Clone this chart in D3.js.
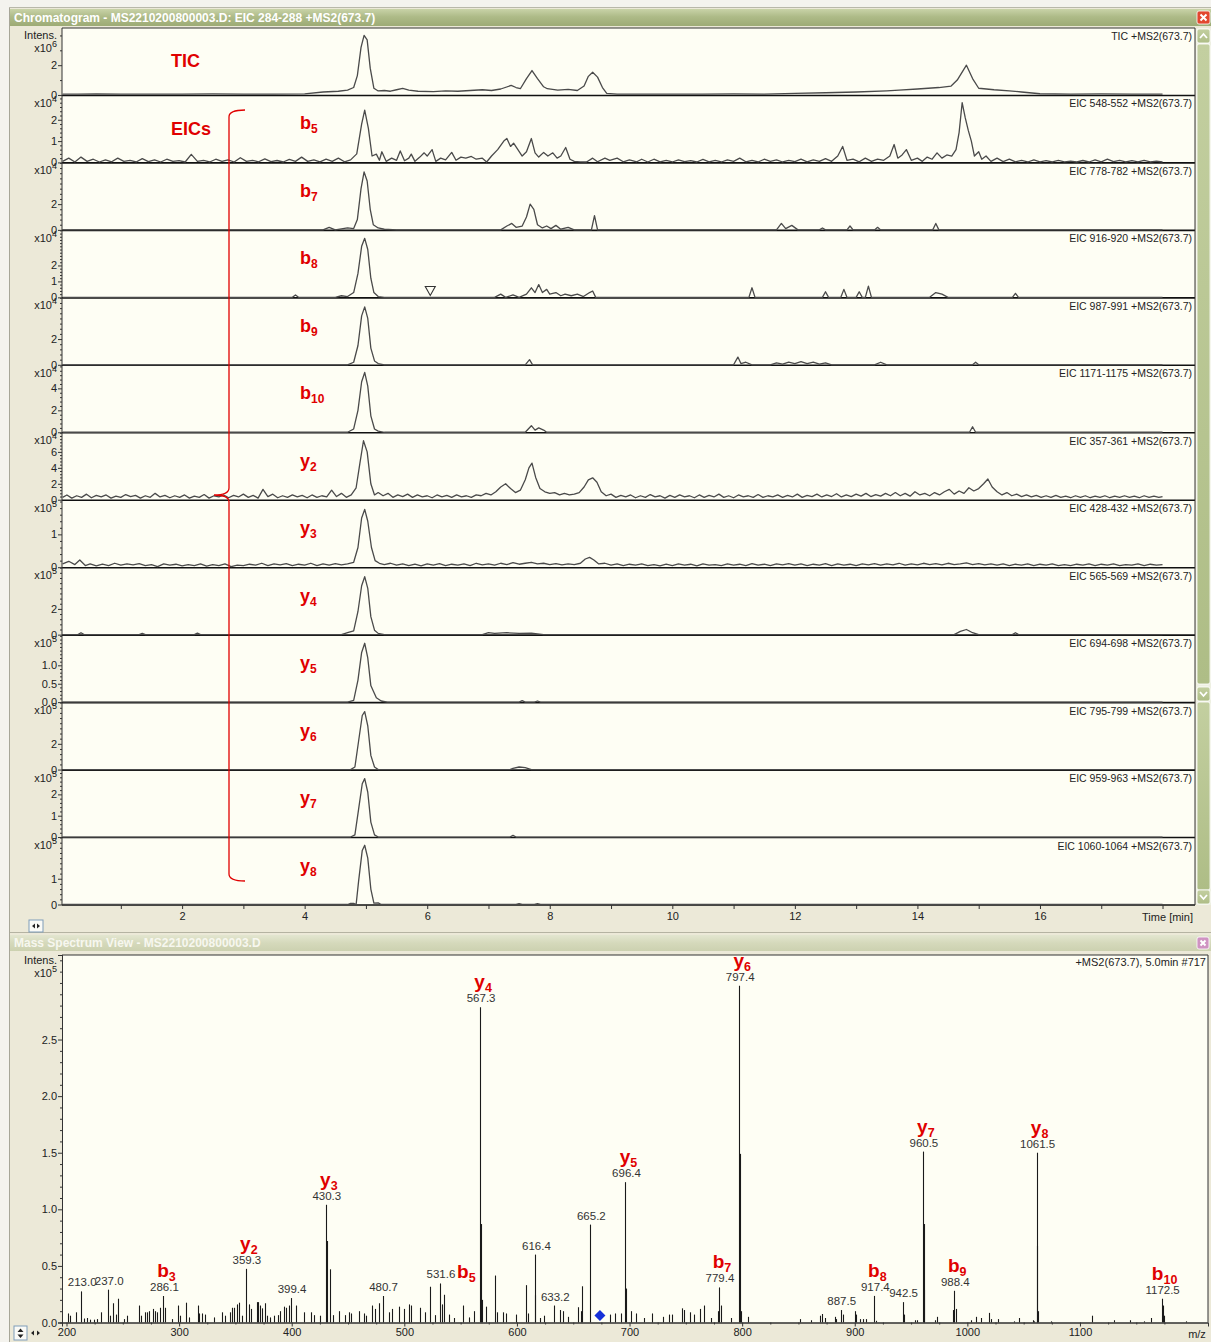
<!DOCTYPE html>
<html>
<head>
<meta charset="utf-8">
<script src="https://cdn.jsdelivr.net/npm/d3@7"></script>
<style>
  html,body{margin:0;padding:0;background:#ece9d8;}
  svg{display:block;}
  text{font-family:'Liberation Sans',Arial,sans-serif;}
</style>
</head>
<body>
<svg id="chart" width="1211" height="1342"></svg>
<script>
// ---------------- Chromatogram traces: [time (min), intensity in panel units] ----------------
const traceNames = [
  "TIC +MS2(673.7)", "EIC 548-552 +MS2(673.7)", "EIC 778-782 +MS2(673.7)", "EIC 916-920 +MS2(673.7)",
  "EIC 987-991 +MS2(673.7)", "EIC 1171-1175 +MS2(673.7)", "EIC 357-361 +MS2(673.7)", "EIC 428-432 +MS2(673.7)",
  "EIC 565-569 +MS2(673.7)", "EIC 694-698 +MS2(673.7)", "EIC 795-799 +MS2(673.7)", "EIC 959-963 +MS2(673.7)",
  "EIC 1060-1064 +MS2(673.7)"
];
const traceIons = [null, ["b","5"], ["b","7"], ["b","8"], ["b","9"], ["b","10"], ["y","2"], ["y","3"], ["y","4"], ["y","5"], ["y","6"], ["y","7"], ["y","8"]];
const traceExponent = [6, 4, 4, 4, 4, 4, 4, 5, 5, 5, 5, 5, 5];
const traceMax = [4.5, 3.14, 5.2, 4.2, 5.2, 6.1, 8.4, 2.04, 5.2, 1.82, 5.2, 3.14, 2.6];
const traceTicks = [[0,2],[0,1,2],[0,2],[0,1,2],[0,2],[0,2,4],[0,2,4,6],[0,1],[0,2],[0,0.5,1],[0,2],[0,1,2],[0,1]];
const traceMinorStep = [1, 0.2, 0.4, 0.2, 0.4, 0.4, 0.4, 0.2, 0.4, 0.1, 0.4, 0.2, 0.2];
const timeTicks = [1,2,3,4,5,6,7,8,9,10,11,12,13,14,15,16,17,18];
const timeLabels = [2,4,6,8,10,12,14,16];

const ticTrace = [[0.05,0.06],[0.3,0.05],[0.6,0.07],[1.0,0.05],[1.5,0.06],[2.0,0.05],[2.5,0.07],[3.0,0.05],[3.5,0.06],[4.0,0.07],[4.3,0.2],[4.55,0.25],[4.7,0.33],[4.8,0.5],[4.86,1.3],[4.92,3.2],[4.97,4.0],[5.02,3.7],[5.07,1.8],[5.13,0.45],[5.2,0.27],[5.3,0.3],[5.4,0.25],[5.5,0.35],[5.6,0.44],[5.7,0.33],[5.85,0.25],[6.1,0.22],[6.3,0.28],[6.5,0.25],[6.7,0.3],[6.9,0.35],[7.05,0.3],[7.2,0.4],[7.37,0.64],[7.45,0.5],[7.52,0.42],[7.62,1.1],[7.71,1.64],[7.8,1.1],[7.9,0.55],[7.96,0.42],[8.13,0.33],[8.3,0.38],[8.45,0.3],[8.56,0.6],[8.63,1.25],[8.7,1.53],[8.78,1.2],[8.86,0.5],[8.93,0.1],[9.1,0.06],[9.5,0.05],[10,0.06],[10.5,0.05],[11,0.07],[11.5,0.06],[12,0.1],[12.5,0.15],[13,0.2],[13.5,0.28],[13.7,0.33],[14.0,0.4],[14.35,0.5],[14.55,0.6],[14.65,1.0],[14.8,2.0],[14.9,1.1],[15.0,0.45],[15.25,0.35],[15.5,0.28],[15.7,0.2],[16.0,0.08],[16.5,0.06],[17,0.07],[17.5,0.06],[18.0,0.06]];

const b5Trace = [[0.05,0.05],[0.15,0.2],[0.25,0.02],[0.35,0.25],[0.45,0.05],[0.55,0.15],[0.65,0.02],[0.75,0.12],[0.85,0.03],[0.95,0.2],[1.05,0.05],[1.15,0.1],[1.25,0.02],[1.35,0.18],[1.45,0.04],[1.55,0.12],[1.65,0.02],[1.75,0.15],[1.85,0.05],[1.95,0.08],[2.05,0.02],[2.15,0.38],[2.25,0.05],[2.35,0.1],[2.45,0.02],[2.55,0.15],[2.65,0.05],[2.75,0.12],[2.85,0.02],[2.95,0.22],[3.05,0.05],[3.15,0.1],[3.25,0.03],[3.35,0.17],[3.45,0.04],[3.55,0.09],[3.65,0.02],[3.75,0.14],[3.85,0.05],[3.95,0.25],[4.05,0.05],[4.15,0.12],[4.25,0.03],[4.35,0.15],[4.45,0.05],[4.55,0.2],[4.65,0.03],[4.75,0.12],[4.85,0.4],[4.93,1.8],[4.98,2.45],[5.04,1.6],[5.1,0.3],[5.17,0.39],[5.22,0.1],[5.26,0.5],[5.33,0.05],[5.42,0.2],[5.5,0.1],[5.56,0.54],[5.63,0.08],[5.7,0.2],[5.74,0.39],[5.8,0.05],[5.88,0.25],[5.95,0.45],[6.0,0.3],[6.08,0.6],[6.14,0.05],[6.22,0.2],[6.3,0.12],[6.4,0.47],[6.47,0.1],[6.55,0.25],[6.63,0.2],[6.72,0.28],[6.8,0.15],[6.9,0.2],[6.97,0.02],[7.05,0.3],[7.15,0.6],[7.25,1.0],[7.3,1.12],[7.36,0.75],[7.41,0.9],[7.48,0.6],[7.55,0.3],[7.62,0.5],[7.7,1.12],[7.76,0.45],[7.82,0.25],[7.9,0.47],[7.97,0.3],[8.05,0.45],[8.12,0.2],[8.18,0.3],[8.26,0.7],[8.33,0.15],[8.4,0.05],[8.5,0.03],[8.6,0.02],[8.7,0.2],[8.78,0.03],[8.9,0.2],[8.98,0.1],[9.1,0.2],[9.2,0.03],[9.3,0.12],[9.42,0.03],[9.5,0.15],[9.6,0.02],[9.7,0.15],[9.8,0.03],[9.9,0.1],[10.0,0.02],[10.1,0.12],[10.2,0.04],[10.3,0.08],[10.4,0.02],[10.5,0.14],[10.6,0.03],[10.7,0.1],[10.8,0.02],[10.9,0.12],[11.0,0.05],[11.1,0.2],[11.2,0.03],[11.3,0.1],[11.4,0.02],[11.5,0.15],[11.6,0.05],[11.7,0.12],[11.8,0.02],[11.9,0.1],[12.0,0.04],[12.1,0.15],[12.2,0.03],[12.3,0.12],[12.4,0.05],[12.5,0.18],[12.6,0.05],[12.7,0.3],[12.78,0.75],[12.85,0.1],[12.95,0.15],[13.05,0.03],[13.15,0.2],[13.25,0.05],[13.35,0.15],[13.45,0.1],[13.55,0.3],[13.62,0.84],[13.68,0.2],[13.75,0.35],[13.82,0.6],[13.9,0.1],[14.0,0.2],[14.08,0.05],[14.16,0.25],[14.24,0.15],[14.32,0.45],[14.4,0.2],[14.48,0.35],[14.56,0.3],[14.63,0.6],[14.68,1.4],[14.73,2.8],[14.78,2.1],[14.83,1.5],[14.88,1.0],[14.93,0.3],[15.0,0.5],[15.05,0.15],[15.12,0.3],[15.2,0.05],[15.3,0.2],[15.4,0.04],[15.5,0.15],[15.6,0.03],[15.7,0.1],[15.8,0.02],[15.9,0.12],[16.0,0.03],[16.1,0.08],[16.2,0.02],[16.3,0.1],[16.4,0.03],[16.5,0.06],[16.6,0.02],[16.7,0.09],[16.8,0.02],[16.9,0.12],[17.0,0.03],[17.1,0.15],[17.2,0.04],[17.3,0.1],[17.4,0.02],[17.5,0.08],[17.6,0.03],[17.7,0.1],[17.8,0.02],[17.9,0.06],[18.0,0.02]];

const b7Trace = [[0.05,0],[4.3,0],[4.4,0.2],[4.5,0],[4.7,0.15],[4.8,0.1],[4.86,0.8],[4.92,3.2],[4.97,4.5],[5.02,3.8],[5.07,1.6],[5.12,0.4],[5.2,0.15],[5.3,0.05],[5.5,0],[7.2,0],[7.3,0.3],[7.38,0.5],[7.45,0.2],[7.55,0.3],[7.62,1.0],[7.68,2.0],[7.74,1.6],[7.8,0.4],[7.88,0.15],[7.95,0.3],[8.02,0.1],[8.1,0.35],[8.18,0.05],[8.3,0.2],[8.4,0],[8.68,0],[8.73,1.1],[8.78,0],[11.7,0],[11.78,0.5],[11.85,0.1],[11.95,0.35],[12.05,0],[12.4,0],[12.45,0.15],[12.5,0],[12.85,0],[12.9,0.3],[12.95,0],[13.3,0],[13.35,0.2],[13.4,0],[14.25,0],[14.3,0.5],[14.35,0],[18.0,0]];

const b8Trace = [[0.05,0],[3.8,0],[3.85,0.15],[3.9,0],[4.5,0],[4.6,0.1],[4.7,0.05],[4.8,0.3],[4.87,1.5],[4.93,3.2],[4.98,3.7],[5.03,3.0],[5.08,1.2],[5.13,0.3],[5.2,0.05],[5.3,0],[7.1,0],[7.2,0.2],[7.28,0],[7.4,0.15],[7.5,0],[7.62,0.2],[7.7,0.6],[7.76,0.3],[7.82,0.8],[7.88,0.3],[7.95,0.5],[8.0,0.2],[8.1,0.3],[8.18,0.1],[8.25,0.2],[8.35,0.1],[8.45,0.2],[8.55,0.05],[8.65,0.3],[8.7,0.4],[8.75,0],[11.25,0],[11.3,0.6],[11.35,0],[12.45,0],[12.5,0.35],[12.55,0],[12.75,0],[12.8,0.5],[12.85,0],[13.0,0],[13.05,0.35],[13.1,0],[13.15,0],[13.2,0.7],[13.25,0],[14.2,0],[14.3,0.3],[14.4,0.2],[14.5,0],[15.55,0],[15.6,0.25],[15.65,0],[18.0,0]];

const b9Trace = [[0.05,0],[4.7,0],[4.8,0.2],[4.87,1.5],[4.93,3.8],[4.98,4.5],[5.03,3.6],[5.08,1.3],[5.14,0.3],[5.2,0.1],[5.3,0],[7.6,0],[7.67,0.4],[7.72,0],[11.0,0],[11.07,0.6],[11.12,0.1],[11.2,0.2],[11.3,0],[11.6,0],[11.7,0.15],[11.8,0.05],[11.9,0.2],[12.0,0.1],[12.1,0.25],[12.2,0.1],[12.3,0.2],[12.4,0.05],[12.5,0.15],[12.6,0],[13.3,0],[13.4,0.2],[13.5,0],[14.9,0],[14.95,0.2],[15.0,0],[18.0,0]];

const b10Trace = [[0.05,0],[4.7,0],[4.8,0.3],[4.87,2.0],[4.93,4.6],[4.98,5.45],[5.03,4.2],[5.08,1.5],[5.14,0.3],[5.2,0.1],[5.3,0],[7.6,0],[7.65,0.3],[7.7,0.6],[7.76,0.2],[7.82,0.4],[7.9,0.2],[7.95,0],[14.85,0],[14.9,0.5],[14.95,0],[18.0,0]];

const y2Trace = [[0.05,0.3],[0.12,0.6],[0.2,0.2],[0.28,0.5],[0.36,0.3],[0.44,0.7],[0.52,0.25],[0.6,0.55],[0.68,0.35],[0.76,0.6],[0.84,0.2],[0.92,0.45],[1.0,0.3],[1.08,0.65],[1.16,0.4],[1.24,0.55],[1.32,0.2],[1.4,0.5],[1.48,0.3],[1.56,0.8],[1.64,0.35],[1.72,0.55],[1.8,0.25],[1.88,0.5],[1.96,0.3],[2.04,0.6],[2.12,0.2],[2.2,0.45],[2.28,0.3],[2.36,0.65],[2.44,0.2],[2.52,0.5],[2.6,0.35],[2.68,0.6],[2.76,0.25],[2.84,0.55],[2.92,0.35],[3.0,0.7],[3.08,0.3],[3.16,0.55],[3.24,0.2],[3.32,1.3],[3.4,0.4],[3.48,0.7],[3.56,0.25],[3.64,0.5],[3.72,0.3],[3.8,0.6],[3.88,0.35],[3.96,0.55],[4.04,0.25],[4.12,0.6],[4.2,0.3],[4.28,0.5],[4.36,0.35],[4.44,1.2],[4.52,0.4],[4.6,0.8],[4.68,0.3],[4.76,0.6],[4.84,1.5],[4.9,4.5],[4.96,7.4],[5.02,6.0],[5.08,2.0],[5.14,0.6],[5.2,0.9],[5.28,0.5],[5.36,0.8],[5.44,0.3],[5.52,0.6],[5.6,0.4],[5.68,0.7],[5.76,0.3],[5.84,0.6],[5.92,0.35],[6.0,0.5],[6.08,0.25],[6.16,0.6],[6.24,0.35],[6.32,0.55],[6.4,0.3],[6.48,0.6],[6.56,0.35],[6.64,0.5],[6.72,0.3],[6.8,0.6],[6.88,0.5],[6.96,0.8],[7.04,0.6],[7.12,1.0],[7.2,1.6],[7.28,2.0],[7.36,1.4],[7.44,0.9],[7.52,1.2],[7.6,2.5],[7.66,4.0],[7.71,4.6],[7.77,2.8],[7.84,1.4],[7.92,1.0],[8.0,0.8],[8.08,0.9],[8.16,0.6],[8.24,0.8],[8.32,0.6],[8.4,0.7],[8.48,0.9],[8.56,1.6],[8.63,2.5],[8.7,2.75],[8.77,2.2],[8.84,1.0],[8.92,0.5],[9.0,0.7],[9.08,0.3],[9.16,0.55],[9.24,0.35],[9.32,0.6],[9.4,0.25],[9.48,0.5],[9.56,0.3],[9.64,0.65],[9.72,0.35],[9.8,0.5],[9.88,0.2],[9.96,0.55],[10.04,0.3],[10.12,0.6],[10.2,0.35],[10.28,0.5],[10.36,0.25],[10.44,0.6],[10.52,0.3],[10.6,0.55],[10.68,0.35],[10.76,0.7],[10.84,0.3],[10.92,0.5],[11.0,0.25],[11.08,0.6],[11.16,0.35],[11.24,0.5],[11.32,0.3],[11.4,0.65],[11.48,0.3],[11.56,0.5],[11.64,0.35],[11.72,0.6],[11.8,0.3],[11.88,0.55],[11.96,0.35],[12.04,0.7],[12.12,0.3],[12.2,0.55],[12.28,0.4],[12.36,0.7],[12.44,0.35],[12.52,0.6],[12.6,0.4],[12.68,0.75],[12.76,0.35],[12.84,0.6],[12.92,0.4],[13.0,0.7],[13.08,0.45],[13.16,0.8],[13.24,0.4],[13.32,0.65],[13.4,0.45],[13.48,0.8],[13.56,0.5],[13.64,0.9],[13.72,0.5],[13.8,0.8],[13.88,0.45],[13.96,1.0],[14.04,0.6],[14.12,0.8],[14.2,0.5],[14.28,0.9],[14.36,0.6],[14.44,1.0],[14.52,1.3],[14.6,0.7],[14.68,1.1],[14.76,0.8],[14.84,1.5],[14.92,1.1],[15.0,1.4],[15.08,2.0],[15.15,2.6],[15.22,1.6],[15.3,1.0],[15.38,0.6],[15.46,0.9],[15.54,0.5],[15.62,0.7],[15.7,0.4],[15.78,0.6],[15.86,0.35],[15.94,0.55],[16.02,0.3],[16.1,0.5],[16.18,0.3],[16.26,0.55],[16.34,0.3],[16.42,0.45],[16.5,0.25],[16.58,0.5],[16.66,0.3],[16.74,0.5],[16.82,0.25],[16.9,0.45],[16.98,0.3],[17.06,0.5],[17.14,0.25],[17.22,0.45],[17.3,0.3],[17.38,0.5],[17.46,0.3],[17.54,0.45],[17.62,0.25],[17.7,0.5],[17.78,0.3],[17.86,0.45],[17.94,0.3],[18.0,0.4]];

const y3Trace = [[0.05,0.1],[0.15,0.18],[0.25,0.08],[0.33,0.22],[0.42,0.05],[0.5,0.1],[0.6,0.04],[0.7,0.09],[0.8,0.05],[0.9,0.12],[1.0,0.06],[1.1,0.1],[1.2,0.07],[1.3,0.11],[1.4,0.05],[1.5,0.08],[1.6,0.02],[1.7,0.1],[1.8,0.06],[1.9,0.09],[2.0,0.04],[2.1,0.08],[2.2,0.05],[2.3,0.1],[2.4,0.03],[2.5,0.08],[2.6,0.05],[2.7,0.1],[2.8,0.02],[2.9,0.06],[3.0,0.05],[3.1,0.09],[3.2,0.06],[3.3,0.12],[3.4,0.05],[3.5,0.1],[3.6,0.07],[3.7,0.11],[3.8,0.05],[3.9,0.09],[4.0,0.06],[4.1,0.12],[4.2,0.05],[4.3,0.1],[4.4,0.06],[4.5,0.11],[4.6,0.07],[4.7,0.1],[4.8,0.15],[4.87,0.6],[4.93,1.5],[4.98,1.76],[5.03,1.4],[5.09,0.6],[5.15,0.2],[5.22,0.12],[5.3,0.08],[5.4,0.12],[5.5,0.06],[5.6,0.1],[5.7,0.05],[5.8,0.09],[5.9,0.04],[6.0,0.1],[6.1,0.06],[6.2,0.11],[6.3,0.05],[6.4,0.09],[6.5,0.06],[6.6,0.1],[6.7,0.05],[6.8,0.12],[6.9,0.07],[7.0,0.1],[7.1,0.06],[7.2,0.12],[7.3,0.08],[7.4,0.14],[7.5,0.09],[7.6,0.12],[7.7,0.15],[7.8,0.1],[7.9,0.12],[8.0,0.08],[8.1,0.11],[8.2,0.07],[8.3,0.1],[8.4,0.08],[8.5,0.12],[8.58,0.25],[8.65,0.3],[8.72,0.22],[8.8,0.1],[8.9,0.12],[9.0,0.06],[9.1,0.1],[9.2,0.05],[9.3,0.09],[9.4,0.06],[9.5,0.1],[9.6,0.05],[9.7,0.08],[9.8,0.04],[9.9,0.09],[10.0,0.05],[10.1,0.1],[10.2,0.06],[10.3,0.09],[10.4,0.04],[10.5,0.1],[10.6,0.06],[10.7,0.08],[10.8,0.05],[10.9,0.1],[11.0,0.06],[11.1,0.09],[11.2,0.05],[11.3,0.11],[11.4,0.06],[11.5,0.09],[11.6,0.05],[11.7,0.1],[11.8,0.07],[11.9,0.11],[12.0,0.06],[12.1,0.1],[12.2,0.05],[12.3,0.09],[12.4,0.06],[12.5,0.11],[12.6,0.05],[12.7,0.1],[12.8,0.06],[12.9,0.09],[13.0,0.05],[13.1,0.1],[13.2,0.07],[13.3,0.11],[13.4,0.06],[13.5,0.1],[13.6,0.07],[13.7,0.12],[13.8,0.06],[13.9,0.1],[14.0,0.07],[14.1,0.12],[14.2,0.08],[14.3,0.11],[14.4,0.07],[14.5,0.12],[14.6,0.08],[14.7,0.1],[14.8,0.13],[14.9,0.08],[15.0,0.11],[15.1,0.07],[15.2,0.1],[15.3,0.06],[15.4,0.1],[15.5,0.05],[15.6,0.09],[15.7,0.06],[15.8,0.1],[15.9,0.05],[16.0,0.09],[16.1,0.06],[16.2,0.1],[16.3,0.05],[16.4,0.08],[16.5,0.05],[16.6,0.09],[16.7,0.06],[16.8,0.1],[16.9,0.05],[17.0,0.09],[17.1,0.06],[17.2,0.1],[17.3,0.05],[17.4,0.08],[17.5,0.06],[17.6,0.1],[17.7,0.05],[17.8,0.09],[17.9,0.06],[18.0,0.08]];

const y4Trace = [[0.05,0],[0.3,0],[0.35,0.15],[0.4,0],[1.3,0],[1.35,0.1],[1.4,0],[2.2,0],[2.25,0.12],[2.3,0],[4.6,0],[4.7,0.15],[4.8,0.3],[4.87,1.8],[4.93,3.8],[4.98,4.5],[5.03,3.6],[5.08,1.4],[5.14,0.35],[5.2,0.1],[5.3,0],[6.9,0],[7.0,0.15],[7.1,0.1],[7.3,0.15],[7.5,0.1],[7.7,0.12],[7.9,0],[14.6,0],[14.7,0.25],[14.8,0.4],[14.9,0.15],[15.0,0],[15.55,0],[15.6,0.15],[15.65,0],[18.0,0]];
const y5Trace = [[0.05,0],[4.7,0],[4.8,0.05],[4.87,0.6],[4.93,1.35],[4.98,1.6],[5.03,1.2],[5.08,0.45],[5.12,0.3],[5.17,0.12],[5.25,0.03],[5.35,0],[7.5,0],[7.55,0.04],[7.6,0],[7.75,0],[7.8,0.03],[7.85,0],[18.0,0]];
const y6Trace = [[0.05,0],[4.75,0],[4.82,0.2],[4.88,2.2],[4.94,4.2],[4.98,4.5],[5.03,3.4],[5.08,1.1],[5.14,0.2],[5.2,0],[7.35,0],[7.4,0.1],[7.5,0.2],[7.6,0.15],[7.7,0],[18.0,0]];
const y7Trace = [[0.05,0],[4.75,0],[4.82,0.1],[4.88,1.3],[4.94,2.5],[4.98,2.74],[5.03,2.1],[5.08,0.7],[5.14,0.1],[5.2,0],[7.35,0],[7.4,0.08],[7.45,0],[18.0,0]];
const y8Trace = [[0.05,0],[4.7,0],[4.75,0.04],[4.8,0.04],[4.84,0],[4.88,0.9],[4.94,2.1],[4.98,2.3],[5.03,1.8],[5.08,0.6],[5.13,0.05],[5.2,0.06],[5.25,0],[7.45,0],[7.5,0.03],[7.55,0],[7.75,0],[7.8,0.03],[7.85,0],[18.0,0]];

const traceData = [ticTrace, b5Trace, b7Trace, b8Trace, b9Trace, b10Trace, y2Trace, y3Trace, y4Trace, y5Trace, y6Trace, y7Trace, y8Trace];
// open triangle on the b8 trace: [time, intensity], panel index
const triangleMark = [6.05, 0.12, 3];

// ---------------- Mass spectrum: [m/z, intensity x10^5] ----------------
const specPeaks = [[201,0.08],[203,0.06],[208,0.09],[213.0,0.275],[215.4,0.035],[218,0.04],[221,0.025],[224,0.025],[227,0.03],[231,0.09],[237.0,0.29],[238.5,0.06],[241,0.17],[244,0.07],[246,0.21],[251,0.03],[254,0.06],[264.5,0.15],[266,0.06],[270,0.09],[271.6,0.09],[273,0.1],[277,0.12],[279,0.1],[280.5,0.09],[283,0.13],[286.1,0.234],[287.6,0.13],[294,0.03],[299,0.15],[301,0.06],[306,0.175],[308.6,0.045],[316.6,0.15],[318,0.08],[320.7,0.08],[323.4,0.07],[330.8,0.045],[338,0.09],[341,0.06],[345,0.09],[347,0.13],[349,0.13],[351.5,0.16],[353,0.175],[356,0.06],[359.3,0.474],[361.8,0.16],[364,0.12],[369,0.18],[370.4,0.18],[372,0.15],[373.7,0.125],[376.6,0.17],[378,0.06],[381,0.045],[384,0.06],[387.6,0.065],[390,0.1],[393,0.14],[395,0.13],[397.3,0.15],[399.4,0.216],[403.8,0.15],[410.6,0.09],[417,0.09],[419.5,0.065],[425.4,0.06],[430.3,1.04],[431.2,0.72],[433.7,0.47],[437,0.065],[442,0.1],[447.6,0.065],[450.6,0.09],[452.7,0.08],[459.5,0.1],[464,0.08],[466,0.06],[471.6,0.15],[474,0.12],[477.5,0.17],[480.7,0.234],[486,0.09],[489,0.12],[495.5,0.14],[499.4,0.12],[504.4,0.16],[506,0.15],[514,0.13],[518.6,0.09],[523,0.316],[527.5,0.065],[531.6,0.345],[533.4,0.16],[535.2,0.245],[539.8,0.07],[544.3,0.04],[552.4,0.15],[557.8,0.045],[562.3,0.1],[567.3,2.785],[567.9,0.87],[569,0.2],[572.3,0.14],[580.4,0.415],[582,0.09],[588,0.09],[590.4,0.08],[599.4,0.07],[608.4,0.33],[609.6,0.08],[615.7,0.24],[616.4,0.6],[620.5,0.04],[624,0.06],[633.2,0.15],[638.5,0.11],[640.7,0.1],[645,0.05],[654.2,0.135],[656.6,0.1],[658,0.32],[665.2,0.865],[682.8,0.07],[687.3,0.08],[692.8,0.08],[696.4,1.24],[697.2,0.3],[701,0.1],[705.4,0.08],[713,0.04],[720,0.08],[729.5,0.05],[735,0.07],[738,0.07],[747,0.125],[748.2,0.11],[753.6,0.09],[757.2,0.07],[762.6,0.12],[765.7,0.15],[772.3,0.04],[778.3,0.1],[779.4,0.31],[781,0.15],[789.8,0.04],[797.4,2.975],[798.2,1.49],[799,0.1],[805,0.05],[851,0.03],[861,0.02],[869.4,0.06],[871.2,0.075],[873.3,0.04],[882.8,0.05],[883.7,0.03],[887.5,0.11],[889.6,0.07],[900,0.1],[901.5,0.07],[904.5,0.03],[907.4,0.03],[910.4,0.03],[917.4,0.235],[918.6,0.015],[942.5,0.18],[943.7,0.07],[953.4,0.02],[955.5,0.02],[960.5,1.51],[961.2,0.87],[961.8,0.29],[971.2,0.02],[973,0.05],[987,0.11],[988.4,0.28],[990,0.12],[1003,0.02],[1007.4,0.05],[1011.9,0.04],[1019.3,0.085],[1020.8,0.03],[1027.6,0.03],[1041.5,0.01],[1046.3,0.04],[1057.9,0.02],[1059.6,0.01],[1061.5,1.5],[1062.2,0.68],[1063,0.1],[1074.2,0.01],[1111,0.06],[1130.6,0.02],[1144.8,0.02],[1157.3,0.01],[1163.2,0.04],[1172.5,0.21],[1173.6,0.15],[1175,0.06],[1193.8,0.01]];
const labeledMz = [213.0, 237.0, 286.1, 359.3, 399.4, 430.3, 480.7, 531.6, 567.3, 616.4, 633.2, 665.2, 696.4, 779.4, 797.4, 887.5, 917.4, 942.5, 960.5, 988.4, 1061.5, 1172.5];
// fragment assignments: ion letter, index, m/z of the peak (b5 sits beside its small peak)
const ionTags = [
  {ion:"b", sub:"3", mz:286.1}, {ion:"y", sub:"2", mz:359.3}, {ion:"y", sub:"3", mz:430.3},
  {ion:"b", sub:"5", mz:552.4, level:0.345, inline:true}, {ion:"y", sub:"4", mz:567.3},
  {ion:"y", sub:"5", mz:696.4}, {ion:"b", sub:"7", mz:779.4}, {ion:"y", sub:"6", mz:797.4},
  {ion:"b", sub:"8", mz:917.4}, {ion:"y", sub:"7", mz:960.5}, {ion:"b", sub:"9", mz:988.4},
  {ion:"y", sub:"8", mz:1061.5}, {ion:"b", sub:"10", mz:1172.5}
];
const precursorMz = 673.7;
const intensityTicks = [0, 0.5, 1.0, 1.5, 2.0, 2.5];
const mzTicks = [200, 300, 400, 500, 600, 700, 800, 900, 1000, 1100];

// ---------------- drawing ----------------
const RED = "#e00000";
const svg = d3.select("#chart");
const defs = svg.append("defs");

function vGrad(id, stops) {
  const g = defs.append("linearGradient").attr("id", id).attr("x1", 0).attr("y1", 0).attr("x2", 0).attr("y2", 1);
  stops.forEach(([o, c]) => g.append("stop").attr("offset", o).attr("stop-color", c));
}
vGrad("titleActive", [[0, "#c9d3a8"], [0.45, "#aebb88"], [1, "#9dab75"]]);
vGrad("titleInactive", [[0, "#e3e6d0"], [0.5, "#d5d9bb"], [1, "#ccd1b0"]]);
vGrad("scrollGreen", [[0, "#c3cfa0"], [1, "#aebd86"]]);

// window chrome
svg.append("rect").attr("width", 1211).attr("height", 1342).attr("fill", "#ece9d8");
svg.append("rect").attr("width", 1211).attr("height", 8).attr("fill", "#f4f3ee");
svg.append("rect").attr("width", 9).attr("height", 1342).attr("fill", "#f4f3ee");
svg.append("line").attr("x1", 9.5).attr("x2", 9.5).attr("y1", 8).attr("y2", 1342).attr("stroke", "#a7a698");
svg.append("line").attr("x1", 9).attr("x2", 1211).attr("y1", 7.5).attr("y2", 7.5).attr("stroke", "#b9b8aa");

function titleBar(y, h, fillId, label, textColor, closeFill) {
  svg.append("rect").attr("x", 10).attr("y", y).attr("width", 1201).attr("height", h).attr("fill", `url(#${fillId})`);
  svg.append("text").attr("x", 14).attr("y", y + h - 4.5).attr("fill", textColor)
    .attr("font-size", 12).attr("font-weight", "bold").attr("font-family", "'DejaVu Sans Condensed','Liberation Sans',Arial,sans-serif")
    .text(label);
  const bx = 1197, by = y + 2, bs = h - 4;
  svg.append("rect").attr("x", bx).attr("y", by).attr("width", bs).attr("height", bs).attr("rx", 2)
    .attr("fill", closeFill).attr("stroke", "#ffffff").attr("stroke-width", 0.8);
  svg.append("path").attr("d", `M${bx + 3.5},${by + 3.5}L${bx + bs - 3.5},${by + bs - 3.5}M${bx + bs - 3.5},${by + 3.5}L${bx + 3.5},${by + bs - 3.5}`)
    .attr("stroke", "#fff").attr("stroke-width", 2);
}
titleBar(9, 17, "titleActive", "Chromatogram - MS2210200800003.D: EIC 284-288 +MS2(673.7)", "#ffffff", "#e2472f");
titleBar(935, 16, "titleInactive", "Mass Spectrum View - MS2210200800003.D", "#f7f7ef", "#cf93c2");
svg.append("line").attr("x1", 10).attr("x2", 1211).attr("y1", 932.5).attr("y2", 932.5).attr("stroke", "#b5b3a2");

// ---------------- chromatogram ----------------
const cLeft = 62, cRight = 1195, cTop = 28, cBottom = 905;
const x = d3.scaleLinear().domain([0.04, 18.53]).range([cLeft, cRight]);
const bands = d3.scaleBand().domain(d3.range(traceNames.length)).range([cTop, cBottom]);

svg.append("rect").attr("x", cLeft).attr("y", cTop).attr("width", cRight - cLeft).attr("height", cBottom - cTop)
  .attr("fill", "#fefef4");

const chrom = svg.append("g");
traceNames.forEach((name, i) => {
  const top = bands(i), bottom = top + bands.bandwidth();
  const y = d3.scaleLinear().domain([0, traceMax[i]]).range([bottom - 0.5, top]);
  const g = chrom.append("g");

  // panel baseline
  g.append("line").attr("x1", cLeft).attr("x2", cRight).attr("y1", bottom).attr("y2", bottom)
    .attr("stroke", "#111").attr("stroke-width", 1.6);

  // trace
  const line = d3.line().x(d => x(d[0])).y(d => y(d[1]));
  g.append("path").datum(traceData[i]).attr("d", line).attr("fill", "none")
    .attr("stroke", "#4a4a4a").attr("stroke-width", 1.3).attr("stroke-linejoin", "round");

  // left axis with minor ticks
  const major = traceTicks[i];
  const step = major[1] - major[0];
  const minor = d3.range(0, traceMax[i] + 1e-9, traceMinorStep[i]).filter(v => !major.some(m => Math.abs(m - v) < 1e-6));
  const fmt = step < 1 ? d3.format(".1f") : d3.format("d");
  const ax = g.append("g").attr("transform", `translate(${cLeft},0)`)
    .call(d3.axisLeft(y).tickValues(major).tickSize(4).tickPadding(1).tickFormat(fmt));
  ax.select(".domain").remove();
  ax.selectAll("text").attr("font-size", 11).attr("fill", "#222").attr("font-family", "'Liberation Sans',Arial,sans-serif");
  ax.selectAll("line").attr("stroke", "#333");
  const axm = g.append("g").attr("transform", `translate(${cLeft},0)`)
    .call(d3.axisLeft(y).tickValues(minor).tickSize(2).tickFormat(""));
  axm.select(".domain").remove();
  axm.selectAll("line").attr("stroke", "#333");

  // exponent label
  const expY = i === 0 ? top + 24 : top + 11.5;
  const ex = g.append("text").attr("x", 57).attr("y", expY).attr("text-anchor", "end").attr("font-size", 11).attr("fill", "#222");
  ex.append("tspan").text("x10");
  ex.append("tspan").attr("font-size", 9).attr("dy", -5).text(traceExponent[i]);
  if (i === 0) {
    g.append("text").attr("x", 57).attr("y", top + 11).attr("text-anchor", "end").attr("font-size", 11).attr("fill", "#222").text("Intens.");
  }

  // trace name
  g.append("text").attr("x", cRight - 3).attr("y", top + 12).attr("text-anchor", "end")
    .attr("font-size", 10.5).attr("fill", "#222").text(name);

  // fragment label
  if (traceIons[i]) {
    const t = g.append("text").attr("x", 300).attr("y", top + 34).attr("fill", RED)
      .attr("font-size", 18).attr("font-weight", "bold");
    t.append("tspan").text(traceIons[i][0]);
    t.append("tspan").attr("font-size", 12).attr("dy", 4).text(traceIons[i][1]);
  }
});

// left axis line
chrom.append("line").attr("x1", cLeft).attr("x2", cLeft).attr("y1", cTop).attr("y2", cBottom).attr("stroke", "#333");
// plot frame top / right
chrom.append("line").attr("x1", cLeft).attr("x2", cRight).attr("y1", cTop).attr("y2", cTop).attr("stroke", "#333");
chrom.append("line").attr("x1", cRight).attr("x2", cRight).attr("y1", cTop).attr("y2", cBottom).attr("stroke", "#333");

// time axis: a tick every minute, labels on the even minutes
const tAx = svg.append("g").attr("transform", `translate(0,${cBottom})`)
  .call(d3.axisBottom(x).tickValues(timeTicks).tickSize(4).tickPadding(3).tickFormat(d => timeLabels.includes(d) ? d : ""));
tAx.select(".domain").remove();
tAx.selectAll("text").attr("font-size", 11).attr("fill", "#222").attr("font-family", "'Liberation Sans',Arial,sans-serif");
tAx.selectAll("line").attr("stroke", "#333");
svg.append("text").attr("x", 1193).attr("y", 921).attr("text-anchor", "end").attr("font-size", 11).attr("fill", "#222").text("Time [min]");

// open triangle marker
{
  const [tt, tv, ti] = triangleMark;
  const top = bands(ti), bottom = top + bands.bandwidth();
  const y = d3.scaleLinear().domain([0, traceMax[ti]]).range([bottom - 0.5, top]);
  const cx = x(tt), cy = y(tv);
  svg.append("path").attr("d", `M${cx - 5},${cy - 9}L${cx + 5},${cy - 9}L${cx},${cy}Z`)
    .attr("fill", "none").attr("stroke", "#333").attr("stroke-width", 1.1);
}

// annotations: TIC / EICs and the bracket
svg.append("text").attr("x", 171).attr("y", 67).attr("fill", RED).attr("font-size", 18).attr("font-weight", "bold").text("TIC");
svg.append("text").attr("x", 171).attr("y", 135).attr("fill", RED).attr("font-size", 18).attr("font-weight", "bold").text("EICs");
svg.append("path")
  .attr("d", "M245,110 Q229,110 229,117 L229,488 Q229,495 214,495 Q229,495 229,502 L229,874 Q229,881 245,881")
  .attr("fill", "none").attr("stroke", RED).attr("stroke-width", 1.3);

// scrollbar on the chromatogram window
svg.append("rect").attr("x", 1196).attr("y", cTop).attr("width", 15).attr("height", cBottom - cTop).attr("fill", "#eef0e2");
function scrollButton(yy, up) {
  svg.append("rect").attr("x", 1197).attr("y", yy).attr("width", 13).attr("height", 14).attr("rx", 2)
    .attr("fill", "url(#scrollGreen)").attr("stroke", "#fff").attr("stroke-width", 0.8);
  const cx = 1203.5, cy = yy + 7;
  svg.append("path").attr("d", up ? `M${cx - 3.5},${cy + 2}L${cx},${cy - 2}L${cx + 3.5},${cy + 2}` : `M${cx - 3.5},${cy - 2}L${cx},${cy + 2}L${cx + 3.5},${cy - 2}`)
    .attr("fill", "none").attr("stroke", "#fff").attr("stroke-width", 1.8);
}
svg.append("rect").attr("x", 1197).attr("y", 44).attr("width", 13).attr("height", 640).attr("rx", 2).attr("fill", "url(#scrollGreen)").attr("stroke", "#fff").attr("stroke-width", 0.8);
svg.append("rect").attr("x", 1197).attr("y", 702).attr("width", 13).attr("height", 188).attr("rx", 2).attr("fill", "url(#scrollGreen)").attr("stroke", "#fff").attr("stroke-width", 0.8);
scrollButton(29, true);
scrollButton(687, false);
scrollButton(890, false);

// small horizontal-scroll button under the time axis
function hButton(bx, by) {
  svg.append("rect").attr("x", bx).attr("y", by).attr("width", 14).attr("height", 12).attr("fill", "#fafaf6").attr("stroke", "#7f9db9");
  svg.append("path").attr("d", `M${bx + 3},${by + 6}L${bx + 6},${by + 3.5}L${bx + 6},${by + 8.5}Z M${bx + 11},${by + 6}L${bx + 8},${by + 3.5}L${bx + 8},${by + 8.5}Z`).attr("fill", "#222");
}
hButton(29, 920);

// ---------------- mass spectrum ----------------
const sLeft = 62, sRight = 1208, sTop = 955, sBottom = 1322.5;
const mzX = d3.scaleLinear().domain([196, 1213.7]).range([sLeft, sRight]);
const intY = d3.scaleLinear().domain([0, 3.247]).range([sBottom, sTop]);

svg.append("rect").attr("x", sLeft).attr("y", sTop).attr("width", sRight - sLeft).attr("height", sBottom - sTop).attr("fill", "#fefef4");
svg.append("line").attr("x1", sLeft).attr("x2", sRight).attr("y1", sTop).attr("y2", sTop).attr("stroke", "#333");
svg.append("line").attr("x1", sRight).attr("x2", sRight).attr("y1", sTop).attr("y2", sBottom).attr("stroke", "#333");

const spec = svg.append("g");
spec.selectAll("line.peak").data(specPeaks).join("line").attr("class", "peak")
  .attr("x1", d => Math.round(mzX(d[0])) + 0.5).attr("x2", d => Math.round(mzX(d[0])) + 0.5)
  .attr("y1", intY(0)).attr("y2", d => intY(d[1]))
  .attr("stroke", "#1a1a1a").attr("stroke-width", 1.1);

const peakLookup = new Map(specPeaks.map(d => [d[0], d[1]]));
spec.selectAll("text.mz").data(labeledMz).join("text").attr("class", "mz")
  .attr("x", d => mzX(d) + 1).attr("y", d => intY(peakLookup.get(d)) - 5)
  .attr("text-anchor", "middle").attr("font-size", 11.5).attr("fill", "#333")
  .text(d => d.toFixed(1));

ionTags.forEach(tag => {
  const lvl = tag.level !== undefined ? tag.level : peakLookup.get(tag.mz);
  const baseY = tag.inline ? intY(lvl) - 5 : intY(lvl) - 19;
  const t = spec.append("text").attr("x", mzX(tag.mz) + 3).attr("y", baseY).attr("text-anchor", "middle")
    .attr("fill", RED).attr("font-size", 19).attr("font-weight", "bold");
  t.append("tspan").text(tag.ion);
  t.append("tspan").attr("font-size", 12.5).attr("dy", 4).text(tag.sub);
});

// precursor marker
{
  const cx = mzX(precursorMz), cy = intY(0) - 7;
  spec.append("path").attr("d", `M${cx},${cy - 5.5}L${cx + 5.5},${cy}L${cx},${cy + 5.5}L${cx - 5.5},${cy}Z`).attr("fill", "#1530d8");
}

// axes
const yAx = svg.append("g").attr("transform", `translate(${sLeft},0)`)
  .call(d3.axisLeft(intY).tickValues(intensityTicks).tickSize(4).tickPadding(1).tickFormat(d3.format(".1f")));
const yMinor = d3.range(0, 3.25, 0.1).filter(v => !intensityTicks.some(m => Math.abs(m - v) < 1e-6));
const yAxm = svg.append("g").attr("transform", `translate(${sLeft},0)`)
  .call(d3.axisLeft(intY).tickValues(yMinor).tickSize(2).tickFormat(""));
const xAx = svg.append("g").attr("transform", `translate(0,${sBottom})`)
  .call(d3.axisBottom(mzX).tickValues(mzTicks).tickSize(4).tickPadding(2).tickFormat(d3.format("d")));
const xMinor = d3.range(200, 1201, 25).filter(v => v % 100 !== 0);
const xAxm = svg.append("g").attr("transform", `translate(0,${sBottom})`)
  .call(d3.axisBottom(mzX).tickValues(xMinor).tickSize(2).tickFormat(""));
[yAx, yAxm, xAx, xAxm].forEach(a => {
  a.select(".domain").attr("stroke", "#333");
  a.selectAll("line").attr("stroke", "#333");
  a.selectAll("text").attr("font-size", 11).attr("fill", "#222").attr("font-family", "'Liberation Sans',Arial,sans-serif");
});
svg.append("text").attr("x", 57).attr("y", 964).attr("text-anchor", "end").attr("font-size", 11).attr("fill", "#222").text("Intens.");
{
  const ex = svg.append("text").attr("x", 57).attr("y", 977).attr("text-anchor", "end").attr("font-size", 11).attr("fill", "#222");
  ex.append("tspan").text("x10");
  ex.append("tspan").attr("font-size", 9).attr("dy", -5).text("5");
}
svg.append("text").attr("x", 1206).attr("y", 966).attr("text-anchor", "end").attr("font-size", 11).attr("fill", "#222").text("+MS2(673.7), 5.0min #717");
svg.append("text").attr("x", 1197).attr("y", 1338).attr("text-anchor", "middle").attr("font-size", 11).attr("fill", "#222").text("m/z");

// bottom-left buttons
svg.append("rect").attr("x", 14).attr("y", 1326).attr("width", 13).attr("height", 14).attr("fill", "#fafaf6").attr("stroke", "#7f9db9");
svg.append("path").attr("d", "M20.5,1328.5L23.5,1332L17.5,1332Z M20.5,1338L23.5,1334.5L17.5,1334.5Z").attr("fill", "#222");
svg.append("path").attr("d", "M31,1333L34,1330.5L34,1335.5Z M40,1333L37,1330.5L37,1335.5Z").attr("fill", "#222");
</script>
</body>
</html>
